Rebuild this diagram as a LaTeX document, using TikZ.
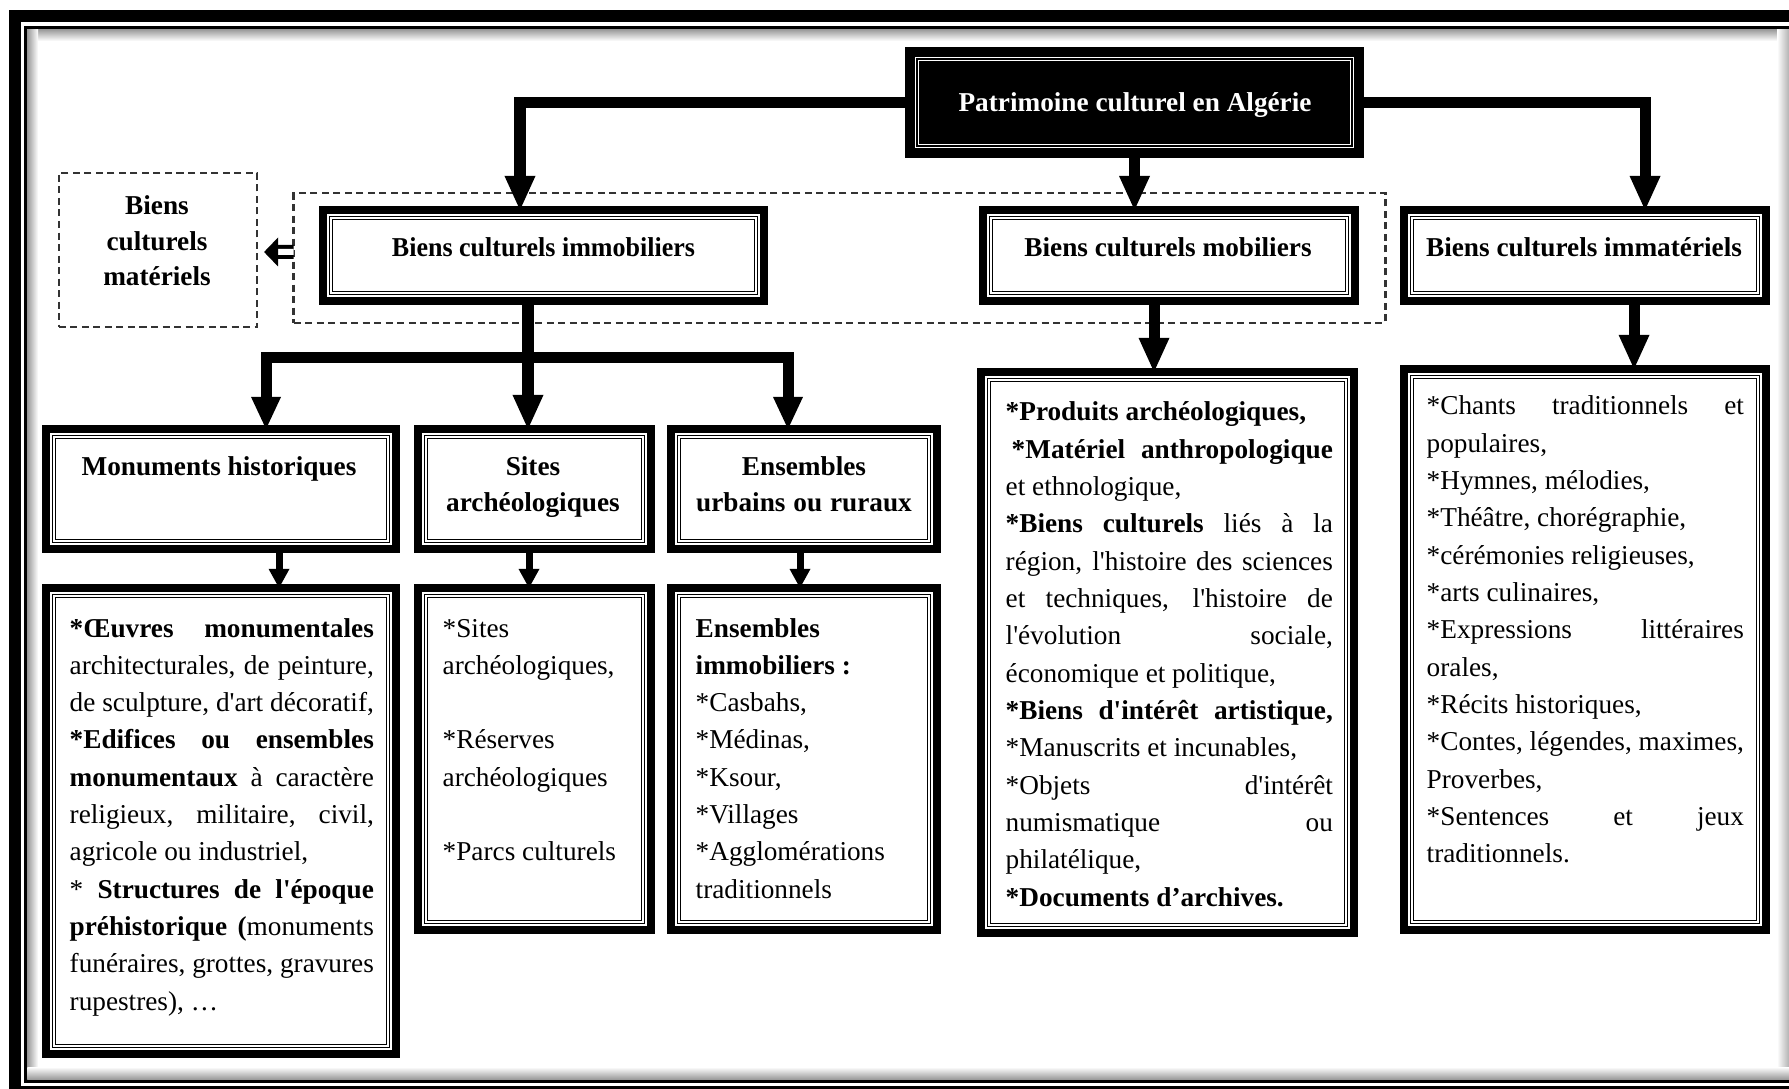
\documentclass[tikz,border=0pt]{standalone}
\usepackage{fontspec}
\setmainfont{Liberation Serif}[Ligatures=TeXOff]
\usetikzlibrary{arrows.meta,calc}
\newcommand\jw{3cm}
\newcommand\nsp{\spaceskip=0pt\xspaceskip=0pt\relax}
\newcommand\jl[1]{\leavevmode\hbox to \jw{\nsp #1}}
\newcommand\bodyfnt{\fontsize{7.75pt}{10.61pt}\selectfont}
\newcommand\headfnt{\fontsize{7.75pt}{9.96pt}\selectfont\bfseries}
\tikzset{
  innerlines/.style={path picture={
      \draw[#1, line width=0.012cm]
        ([shift={(0.065cm,-0.065cm)}]path picture bounding box.north west) rectangle
        ([shift={(-0.065cm,0.065cm)}]path picture bounding box.south east);
      \draw[#1, line width=0.012cm]
        ([shift={(0.095cm,-0.095cm)}]path picture bounding box.north west) rectangle
        ([shift={(-0.095cm,0.095cm)}]path picture bounding box.south east);}},
  box/.style={rectangle, draw=black, fill=white, line width=0.08cm, inner sep=0pt, outer sep=0pt, innerlines=black},
  rootbox/.style={rectangle, draw=black, fill=black, line width=0.08cm, inner sep=0pt, outer sep=0pt, innerlines=white},
  grpbox/.style={rectangle, draw=black!80, line width=0.025cm, dash pattern=on 0.07cm off 0.045cm, inner sep=0pt, outer sep=0pt},
  head/.style={font=\headfnt, inner sep=0pt},
  body/.style={font=\bodyfnt, inner sep=0pt, anchor=base west, align=left},
  conn/.style={line width=0.11cm, -{Triangle[length=0.34cm,width=0.31cm,line width=0pt]}},
  bothconn/.style={line width=0.11cm, {Triangle[length=0.32cm,width=0.30cm,line width=0pt]}-{Triangle[length=0.32cm,width=0.30cm,line width=0pt]}},
  sconn/.style={line width=0.07cm, -{Triangle[length=0.19cm,width=0.21cm,line width=0pt]}},
  dblarrow/.style={line width=0.04cm, double=white, double distance=0.06cm, -{Triangle[length=0.14cm,width=0.29cm,line width=0pt]}},
}
\begin{document}
\begin{tikzpicture}[x=0.01cm,y=-0.01cm]
\fill[white] (0,0) rectangle (1789,1089);
\useasboundingbox (0,0) rectangle (1789,1089);
% page frame
\draw[line width=0.12cm] (15,16) rectangle (1805,1092);
\draw[line width=0.035cm] (25.5,27.5) rectangle (1795,1081);
\shade[top color=black!40, bottom color=white] (27.3,29.3) rectangle (1789,41);
\shade[left color=black!40, right color=white] (27.3,29.3) rectangle (38,1079.3);
\shade[left color=white, right color=black!30] (1777,29.3) rectangle (1789,1079.3);
\shade[top color=white, bottom color=black!40] (27.3,1067) rectangle (1789,1079.3);

% dashed groups
\node[grpbox, minimum width=10.91cm, minimum height=1.30cm] (grp) at (839.5,258) {};
\node[grpbox, minimum width=1.98cm, minimum height=1.54cm] (mat) at (158,250) {};

% boxes
\node[rootbox, minimum width=4.51cm, minimum height=1.03cm] (root) at (1134.5,102.5) {};
\node[box, minimum width=4.41cm, minimum height=0.91cm] (imm) at (543.5,255.5) {};
\node[box, minimum width=3.72cm, minimum height=0.91cm] (mob) at (1169,255.5) {};
\node[box, minimum width=3.62cm, minimum height=0.91cm] (imt) at (1585,255.5) {};
\node[box, minimum width=3.50cm, minimum height=1.20cm] (mon) at (221,489) {};
\node[box, minimum width=2.33cm, minimum height=1.20cm] (sit) at (534.5,489) {};
\node[box, minimum width=2.66cm, minimum height=1.20cm] (ens) at (804,489) {};
\node[box, minimum width=3.50cm, minimum height=4.66cm] (monc) at (221,821) {};
\node[box, minimum width=2.33cm, minimum height=3.42cm] (sitc) at (534.5,759) {};
\node[box, minimum width=2.66cm, minimum height=3.42cm] (ensc) at (804,759) {};
\node[box, minimum width=3.73cm, minimum height=5.61cm] (mobc) at (1167.5,652.5) {};
\node[box, minimum width=3.62cm, minimum height=5.61cm] (imtc) at (1585,649.5) {};

% headings
\node[head, text=white, anchor=base] (root-t) at (1135,112) {Patrimoine culturel en Algérie};
\node[head, anchor=base] (imm-t) at (543.5,257) {\scalebox{0.955}[1]{Biens culturels immobiliers}};
\node[head, anchor=base] (mob-t) at (1168,257) {Biens culturels mobiliers};
\node[head, anchor=base] (imt-t) at (1584,257) {Biens culturels immatériels};
\node[head, anchor=base, text width=1.8cm, align=center] (mat-t) at (157,215) {Biens\\culturels\\matériels};
\node[head, anchor=base] (mon-t) at (219,476) {Monuments historiques};
\node[head, anchor=base, text width=2.2cm, align=center] (sit-t) at (533,476) {Sites\\archéologiques};
\node[head, anchor=base, text width=2.5cm, align=center] (ens-t) at (804,476) {\nsp Ensembles\\urbains ou ruraux};

% contents
\node[body, text width=3.04cm] (monc-t) at (69,637) {%
\nsp\renewcommand\jw{3.04cm}%
\jl{\textbf{{}*Œuvres monumentales}}\\
\jl{architecturales, de peinture,}\\
\jl{de sculpture, d'art décoratif,}\\
\jl{\textbf{{}*Edifices ou ensembles}}\\
\jl{\textbf{monumentaux} à caractère}\\
\jl{religieux, militaire, civil,}\\
agricole ou industriel,\\
\jl{{}* \textbf{Structures de l'époque}}\\
\jl{\textbf{préhistorique (}monuments}\\
\jl{funéraires, grottes, gravures}\\
rupestres), …};
\node[body, text width=1.95cm] (sitc-t) at (442,637) {%
\nsp{}*Sites\\
archéologiques,\\
\mbox{}\\
{}*Réserves\\
archéologiques\\
\mbox{}\\
{}*Parcs culturels};
\node[body, text width=2.35cm] (ensc-t) at (695,637) {%
\nsp\textbf{Ensembles}\\
\textbf{immobiliers :}\\
{}*Casbahs,\\
{}*Médinas,\\
{}*Ksour,\\
{}*Villages\\
{}*Agglomérations\\
traditionnels};
\node[body, text width=3.27cm] (mobc-t) at (1005,421) {%
\nsp\renewcommand\jw{3.27cm}%
\textbf{{}*Produits archéologiques,}\\
\jl{\hspace{0.06cm}\textbf{{}*Matériel anthropologique}}\\
et ethnologique,\\
\jl{\textbf{{}*Biens culturels} liés à la}\\
\jl{région, l'histoire des sciences}\\
\jl{et techniques, l'histoire de}\\
\jl{l'évolution sociale,}\\
économique et politique,\\
\jl{\textbf{{}*Biens d'intérêt artistique,}}\\
{}*Manuscrits et incunables,\\
\jl{{}*Objets d'intérêt}\\
\jl{numismatique ou}\\
philatélique,\\
\textbf{{}*Documents d’archives.}};
\node[body, text width=3.17cm] (imtc-t) at (1426,415) {%
\nsp\renewcommand\jw{3.17cm}%
\jl{{}*Chants traditionnels et}\\
populaires,\\
{}*Hymnes, mélodies,\\
{}*Théâtre, chorégraphie,\\
{}*cérémonies religieuses,\\
{}*arts culinaires,\\
\jl{{}*Expressions littéraires}\\
orales,\\
{}*Récits historiques,\\
\jl{{}*Contes, légendes, maximes,}\\
Proverbes,\\
\jl{{}*Sentences et jeux}\\
traditionnels.};

% connectors
\draw[conn] (root.west) -| ([xshift=-0.235cm]imm.north);
\draw[conn] (root.east) -| ([xshift=0.6cm]imt.north);
\draw[conn] (root.south) -- (root.south |- mob.north);

\coordinate (immS) at ([xshift=-0.155cm]imm.south);
\coordinate (bus) at (528,358);
\draw[conn] (immS) -- (immS |- sit.north);
\draw[bothconn] ([xshift=0.45cm]mon.north) |- (bus) -| ([xshift=-0.16cm]ens.north);

\coordinate (monS) at ([xshift=0.58cm]mon.south);
\coordinate (sitS) at ([xshift=-0.055cm]sit.south);
\coordinate (ensS) at ([xshift=-0.04cm]ens.south);
\coordinate (mobS) at ([xshift=-0.15cm]mob.south);
\coordinate (imtS) at ([xshift=0.49cm]imt.south);
\draw[sconn] (monS) -- (monS |- monc.north);
\draw[sconn] (sitS) -- (sitS |- sitc.north);
\draw[sconn] (ensS) -- (ensS |- ensc.north);
\draw[conn] (mobS) -- (mobS |- mobc.north);
\draw[conn] (imtS) -- (imtS |- imtc.north);

\draw[dblarrow] ([yshift=0.06cm]grp.west) -- ([xshift=0.07cm,yshift=-0.02cm]mat.east);
\end{tikzpicture}
\end{document}
